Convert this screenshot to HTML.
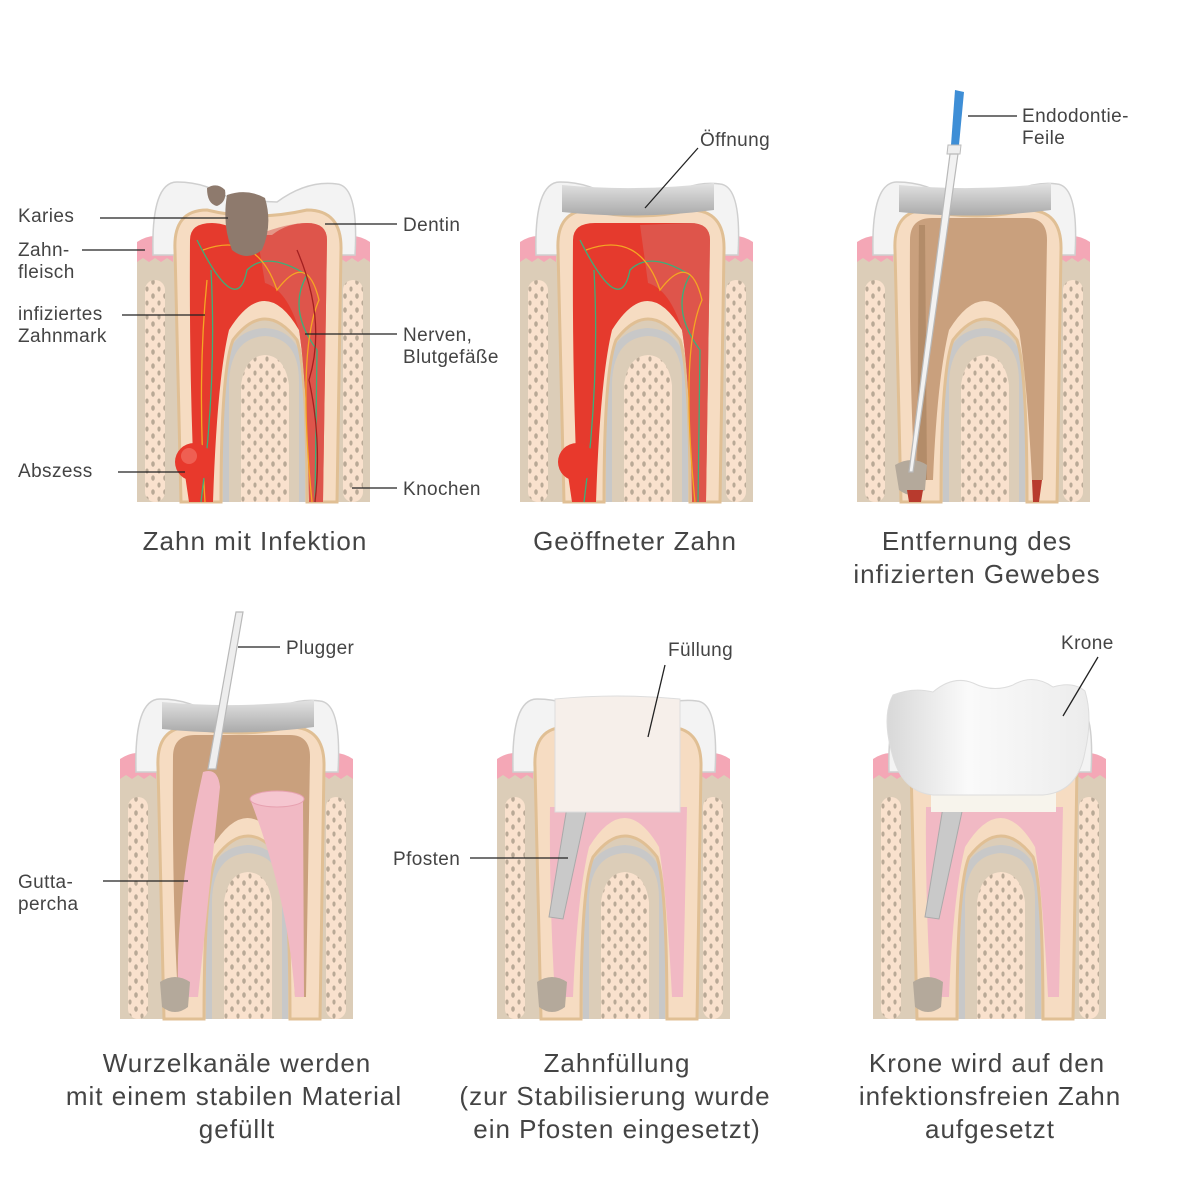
<!DOCTYPE html>
<html><head><meta charset="utf-8"><style>
html,body{margin:0;padding:0;background:#fff}
svg{display:block}
text{font-family:"Liberation Sans",sans-serif;fill:#444}
.l{font-size:19px;letter-spacing:0.4px}
.t{font-size:26px;letter-spacing:1px;text-anchor:middle}
line,polyline{stroke:#222;stroke-width:1.3}
</style></head><body>
<svg width="1200" height="1200" viewBox="0 0 1200 1200" xmlns="http://www.w3.org/2000/svg">
<defs>
<pattern id="dots" width="12" height="14" patternUnits="userSpaceOnUse">
<ellipse cx="4" cy="4" rx="1.8" ry="2.8" fill="#b9a996"/>
<ellipse cx="10" cy="11" rx="1.6" ry="2.6" fill="#b9a996"/>
</pattern>
<linearGradient id="grey" x1="0" y1="0" x2="0" y2="1"><stop offset="0" stop-color="#e2e2e2"/><stop offset="1" stop-color="#aaa"/></linearGradient>
<linearGradient id="crn" x1="0" y1="0" x2="1" y2="0"><stop offset="0" stop-color="#d8d8d8"/><stop offset="0.4" stop-color="#fafafa"/><stop offset="1" stop-color="#ececec"/></linearGradient>
<g id="base">
<rect x="0" y="65" width="233" height="257" fill="#dccdb8"/>
<path d="M0,62 Q18,50 36,62 L36,82 L30,78 L24,82 L18,78 L12,82 L6,78 L0,82Z" fill="#f4a7b6"/>
<path d="M197,62 Q215,50 233,62 L233,82 L227,78 L221,82 L215,78 L209,82 L203,78 L197,82Z" fill="#f4a7b6"/>
<rect x="8" y="100" width="20" height="222" rx="10" fill="#f9e1cd"/>
<rect x="8" y="100" width="20" height="222" rx="10" fill="url(#dots)"/>
<rect x="206" y="100" width="20" height="222" rx="10" fill="#f9e1cd"/>
<rect x="206" y="100" width="20" height="222" rx="10" fill="url(#dots)"/>
<path d="M16,75 Q14,2 40,2 Q70,2 95,20 L140,22 Q170,0 200,4 Q222,6 218,75 Z" fill="#f3f3f3" stroke="#cfcfcf" stroke-width="1.5"/>
<path d="M86,322 L86,200 Q88,150 128,148 Q166,150 168,200 L168,322Z" fill="#c8c8c8"/>
<path d="M92,322 L92,202 Q94,158 128,156 Q162,158 162,202 L162,322Z" fill="#dccdb8"/>
<path d="M104,322 L104,205 Q108,176 128,175 Q148,176 152,205 L152,322Z" fill="#f9e1cd"/>
<path d="M104,322 L104,205 Q108,176 128,175 Q148,176 152,205 L152,322Z" fill="url(#dots)"/>
<path d="M38,70 Q36,30 70,30 Q118,42 170,30 Q205,30 204,70 L200,322 L170,322 Q170,190 160,160 Q128,118 96,160 Q84,190 84,322 L44,322 Z" fill="#f6dcc2" stroke="#e0bf94" stroke-width="3"/>
</g>
</defs>

<!-- Panel 1 -->
<g transform="translate(137,180)">
<use href="#base"/>
<path d="M53,60 Q53,43 75,43 Q90,43 110,55 L135,55 Q150,43 170,43 Q190,43 190,60 L186,322 L172,322 Q170,200 162,150 Q128,92 92,150 Q80,200 76,322 L58,322 Q52,200 53,60 Z" fill="#e53a2d"/>
<path d="M120,55 Q150,43 170,43 Q190,43 190,60 L186,322 L172,322 Q170,200 162,150 Q150,110 128,103Z" fill="#d9685f" opacity="0.6"/>
<path d="M60,60 Q100,140 110,90 Q130,70 170,95 Q150,130 180,170 L178,322" fill="none" stroke="#3bb07a" stroke-width="1.3"/>
<path d="M66,70 Q120,50 140,110 Q170,70 182,120 Q160,170 175,322" fill="none" stroke="#f5a623" stroke-width="1.3"/>
<path d="M70,100 Q60,200 68,322" fill="none" stroke="#f5a623" stroke-width="1.3"/>
<path d="M74,90 Q80,200 64,322" fill="none" stroke="#3bb07a" stroke-width="1.3"/>
<path d="M160,70 Q190,140 172,200 Q185,260 178,322" fill="none" stroke="#a32020" stroke-width="1.3"/>
<path d="M90,15 Q110,8 128,18 Q136,45 125,70 Q110,82 95,70 Q85,45 90,15Z" fill="#8e7a6d"/>
<path d="M70,8 Q80,2 88,10 Q90,22 80,26 Q70,24 70,8Z" fill="#8e7a6d"/>
<circle cx="57" cy="282" r="19" fill="#e8392c"/>
<circle cx="52" cy="276" r="8" fill="#f47a6c" opacity="0.6"/>
<path d="M48,295 L66,295 L62,322 L52,322Z" fill="#e8392c"/>
</g>

<!-- Panel 2 -->
<g transform="translate(520,180)">
<use href="#base"/>
<path d="M53,60 Q53,43 75,43 L170,43 Q190,43 190,60 L186,322 L172,322 Q170,200 162,150 Q128,92 92,150 Q80,200 76,322 L58,322 Q52,200 53,60 Z" fill="#e53a2d"/>
<path d="M120,45 L170,43 Q190,43 190,60 L186,322 L172,322 Q170,200 162,150 Q150,110 128,103Z" fill="#d9685f" opacity="0.6"/>
<path d="M60,60 Q100,140 110,90 Q130,70 170,95 Q150,130 180,170 L178,322" fill="none" stroke="#3bb07a" stroke-width="1.3"/>
<path d="M66,70 Q120,50 140,110 Q170,70 182,120 Q160,170 175,322" fill="none" stroke="#f5a623" stroke-width="1.3"/>
<path d="M74,90 Q80,200 64,322" fill="none" stroke="#3bb07a" stroke-width="1.3"/>
<path d="M42,5 Q118,12 194,3 L194,30 Q118,40 42,32Z" fill="url(#grey)"/>
<circle cx="57" cy="282" r="19" fill="#e8392c"/>
<path d="M48,295 L66,295 L62,322 L52,322Z" fill="#e8392c"/>
</g>

<!-- Panel 3 -->
<g transform="translate(857,180)">
<use href="#base"/>
<path d="M53,60 Q53,38 75,38 L170,38 Q190,38 190,60 L186,300 L175,300 Q170,200 162,150 Q128,92 92,150 Q80,200 76,300 L58,300 Q52,200 53,60 Z" fill="#c9a07d"/>
<path d="M62,45 L60,300 L70,300 L68,45Z" fill="#a57f5b" opacity="0.6"/>
<path d="M42,5 Q118,12 194,3 L194,30 Q118,40 42,32Z" fill="url(#grey)"/>
<path d="M38,285 Q55,275 70,285 L68,310 Q55,320 42,310Z" fill="#b4a99b"/>
<path d="M175,300 L185,300 L182,322 L176,322Z" fill="#b83a2d"/>
<path d="M50,310 L66,310 L64,322 L52,322Z" fill="#b83a2d"/>
<path d="M98,-90 L107,-88 L102,-35 L94,-35Z" fill="#3e8ed6"/>
<path d="M91,-35 L104,-35 L103,-26 L90,-26Z" fill="#eee" stroke="#bbb"/>
<path d="M93,-26 L101,-26 L56,292 L52,292Z" fill="#f2f2f2" stroke="#b9b9b9" stroke-width="1.2"/>
</g>

<!-- Panel 4 -->
<g transform="translate(120,697)">
<use href="#base"/>
<path d="M53,60 Q53,38 75,38 L170,38 Q190,38 190,60 L186,300 L175,300 Q170,200 162,150 Q128,92 92,150 Q80,200 76,300 L58,300 Q52,200 53,60 Z" fill="#c9a07d"/>
<path d="M42,5 Q118,12 194,3 L194,30 Q118,40 42,32Z" fill="url(#grey)"/>
<path d="M83,75 Q98,70 100,90 L78,300 L58,300 Q55,200 83,75Z" fill="#f1b9c4"/>
<path d="M130,102 Q160,90 183,102 L184,300 L175,300 Q168,200 130,102Z" fill="#f1b9c4"/>
<ellipse cx="157" cy="102" rx="27" ry="8" fill="#f5c6d0" stroke="#e7a1b0"/>
<path d="M40,285 Q55,275 70,285 L68,310 Q55,320 42,310Z" fill="#b4a99b"/>
<path d="M116,-85 L123,-85 L96,72 L88,72Z" fill="#eee" stroke="#b9b9b9" stroke-width="1.2"/>
</g>

<!-- Panel 5 -->
<g transform="translate(497,697)">
<use href="#base"/>
<path d="M53,110 L190,110 L186,300 L175,300 Q170,200 162,150 Q128,92 92,150 Q80,200 76,300 L58,300 Q52,200 53,110 Z" fill="#f1b9c4"/>
<path d="M40,285 Q55,275 70,285 L68,310 Q55,320 42,310Z" fill="#b4a99b"/>
<path d="M70,110 L90,110 L66,222 L52,220Z" fill="#c9c9c9" stroke="#aaa"/>
<path d="M58,2 Q120,-4 183,2 L183,115 L58,115Z" fill="#f6efea" stroke="#ddd"/>
</g>

<!-- Panel 6 -->
<g transform="translate(873,697)">
<use href="#base"/>
<path d="M53,110 L190,110 L186,300 L175,300 Q170,200 162,150 Q128,92 92,150 Q80,200 76,300 L58,300 Q52,200 53,110 Z" fill="#f1b9c4"/>
<path d="M40,285 Q55,275 70,285 L68,310 Q55,320 42,310Z" fill="#b4a99b"/>
<path d="M70,110 L90,110 L66,222 L52,220Z" fill="#c9c9c9" stroke="#aaa"/>
<rect x="58" y="95" width="125" height="20" fill="#f7f4ec"/>
<path d="M20,-2 Q40,-10 60,-5 Q80,-22 100,-14 Q120,-4 140,-12 Q160,-24 180,-10 Q200,-16 212,-6 Q220,20 212,55 Q205,95 170,98 L60,98 Q30,95 20,60 Q8,20 20,-2Z" fill="url(#crn)" stroke="#ddd"/>
</g>

<!-- labels -->
<text class="l" x="18" y="222">Karies</text><line x1="100" y1="218" x2="228" y2="218"/>
<text class="l" x="18" y="256">Zahn-</text><text class="l" x="18" y="278">fleisch</text><line x1="82" y1="250" x2="145" y2="250"/>
<text class="l" x="18" y="320">infiziertes</text><text class="l" x="18" y="342">Zahnmark</text><line x1="122" y1="315" x2="205" y2="315"/>
<text class="l" x="18" y="477">Abszess</text><line x1="118" y1="472" x2="185" y2="472"/>
<text class="l" x="403" y="231">Dentin</text><line x1="325" y1="224" x2="397" y2="224"/>
<text class="l" x="403" y="341">Nerven,</text><text class="l" x="403" y="363">Blutgefäße</text><line x1="305" y1="334" x2="397" y2="334"/>
<text class="l" x="403" y="495">Knochen</text><line x1="352" y1="488" x2="397" y2="488"/>
<text class="l" x="700" y="146">Öffnung</text><line x1="698" y1="148" x2="645" y2="208"/>
<text class="l" x="1022" y="122">Endodontie-</text><text class="l" x="1022" y="144">Feile</text><line x1="968" y1="116" x2="1017" y2="116"/>
<text class="l" x="286" y="654">Plugger</text><line x1="238" y1="647" x2="280" y2="647"/>
<text class="l" x="18" y="888">Gutta-</text><text class="l" x="18" y="910">percha</text><line x1="103" y1="881" x2="188" y2="881"/>
<text class="l" x="393" y="865">Pfosten</text><line x1="470" y1="858" x2="568" y2="858"/>
<text class="l" x="668" y="656">Füllung</text><line x1="665" y1="665" x2="648" y2="737"/>
<text class="l" x="1061" y="649">Krone</text><line x1="1098" y1="657" x2="1063" y2="716"/>

<text class="t" x="255" y="550">Zahn mit Infektion</text>
<text class="t" x="635" y="550">Geöffneter Zahn</text>
<text class="t" x="977" y="550">Entfernung des</text><text class="t" x="977" y="583">infizierten Gewebes</text>
<text class="t" x="237" y="1072">Wurzelkanäle werden</text><text class="t" x="234" y="1105">mit einem stabilen Material</text><text class="t" x="237" y="1138">gefüllt</text>
<text class="t" x="617" y="1072">Zahnfüllung</text><text class="t" x="615" y="1105">(zur Stabilisierung wurde</text><text class="t" x="617" y="1138">ein Pfosten eingesetzt)</text>
<text class="t" x="987" y="1072">Krone wird auf den</text><text class="t" x="990" y="1105">infektionsfreien Zahn</text><text class="t" x="990" y="1138">aufgesetzt</text>
</svg>
</body></html>
